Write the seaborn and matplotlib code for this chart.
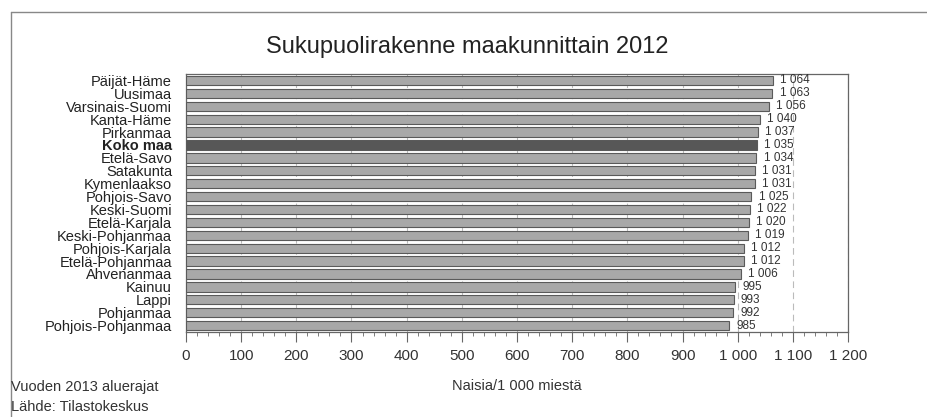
import numpy as np
import pandas as pd
import seaborn as sns
from matplotlib import pyplot as plt
from matplotlib.lines import Line2D
from matplotlib.ticker import MultipleLocator, FuncFormatter

# Data
regions = ['Päijät-Häme', 'Uusimaa', 'Varsinais-Suomi', 'Kanta-Häme', 'Pirkanmaa', 'Koko maa',
           'Etelä-Savo', 'Satakunta', 'Kymenlaakso', 'Pohjois-Savo', 'Keski-Suomi', 'Etelä-Karjala',
           'Keski-Pohjanmaa', 'Pohjois-Karjala', 'Etelä-Pohjanmaa', 'Ahvenanmaa', 'Kainuu', 'Lappi',
           'Pohjanmaa', 'Pohjois-Pohjanmaa']
values = [1064, 1063, 1056, 1040, 1037, 1035, 1034, 1031, 1031, 1025, 1022, 1020,
          1019, 1012, 1012, 1006, 995, 993, 992, 985]
highlight = 'Koko maa'

df = pd.DataFrame({'region': regions, 'value': values})

sns.set_style('white')
plt.rcParams['font.family'] = ['Liberation Sans', 'DejaVu Sans']
narrow = ['Liberation Sans Narrow', 'Liberation Sans', 'DejaVu Sans']

fig = plt.figure(figsize=(9.27, 4.17), dpi=100)
ax = fig.add_axes([0.2006, 0.2038, 0.7142, 0.6187])

colors = ['#575757' if r == highlight else '#a8a8a8' for r in regions]
sns.barplot(data=df, x='value', y='region', hue='region', palette=colors, legend=False,
            width=0.72, edgecolor='#5a5a5a', linewidth=0.8, ax=ax, zorder=3)

ax.set_xlim(0, 1200)
ax.xaxis.set_major_locator(MultipleLocator(100))
ax.xaxis.set_minor_locator(MultipleLocator(20))
ax.xaxis.set_major_formatter(FuncFormatter(lambda v, p: f'{int(v):,}'.replace(',', ' ')))
ax.grid(axis='x', which='major', color='#bbbbbb', linestyle=(0, (6, 4)), linewidth=0.8, zorder=0)

for s in ax.spines.values():
    s.set_color('#666666')
    s.set_linewidth(0.9)

ax.tick_params(axis='x', which='both', bottom=True)
ax.tick_params(axis='x', which='major', direction='out', length=7, width=0.8, color='#666666',
               labelsize=11, pad=5, labelcolor='#333333')
ax.tick_params(axis='x', which='minor', direction='out', length=3, width=0.6, color='#666666')
for t in ax.get_xticklabels():
    t.set_family(narrow)
ax.tick_params(axis='y', length=0, pad=10, labelsize=10.5, labelcolor='#222222')
for t in ax.get_yticklabels():
    if t.get_text() == highlight:
        t.set_fontweight('bold')

ax.set_xlabel('Naisia/1 000 miestä', fontsize=10.5, color='#333333', labelpad=12, family=narrow)
ax.set_ylabel('')

# value labels
for i, v in enumerate(values):
    ax.text(v + 13, i, f'{v:,}'.replace(',', ' '), va='center', ha='left', fontsize=8.5,
            color='#333333')

fig.text(0.504, 0.888, 'Sukupuolirakenne maakunnittain 2012', ha='center', va='center',
         fontsize=17, color='#222222')
fig.text(0.012, 0.072, 'Vuoden 2013 aluerajat', ha='left', va='center', fontsize=10.5,
         color='#333333', family=narrow)
fig.text(0.012, 0.024, 'Lähde: Tilastokeskus', ha='left', va='center', fontsize=10.5,
         color='#333333', family=narrow)

# outer frame (left and top edges visible)
fig.add_artist(Line2D([0.012, 0.012], [0.0, 0.971], color='#888888', lw=1.0))
fig.add_artist(Line2D([0.012, 1.0], [0.971, 0.971], color='#888888', lw=1.0))

fig.savefig('out.png', dpi=100)
